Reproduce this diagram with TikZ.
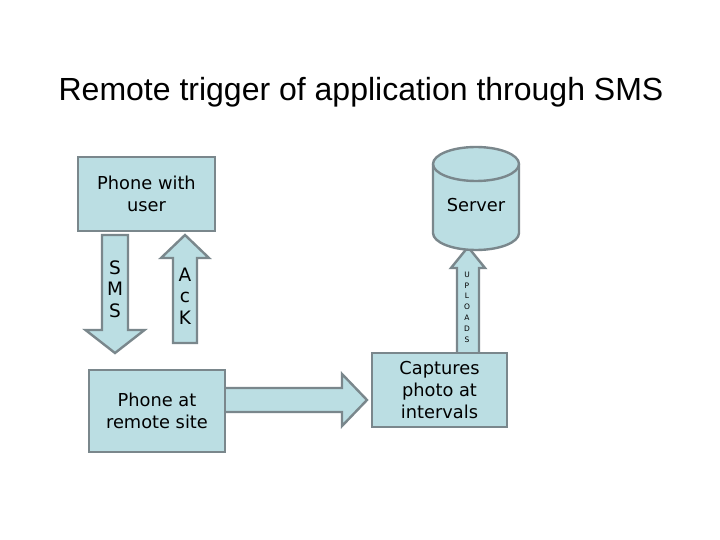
\documentclass[tikz,border=0pt]{standalone}
\usepackage{fontspec}
\setmainfont{DejaVu Sans}
\newfontfamily\titlefont{Liberation Sans}
\usetikzlibrary{calc}
\definecolor{boxfill}{RGB}{187,222,227}
\definecolor{boxline}{RGB}{122,135,140}
\tikzset{
  box/.style={draw=boxline, fill=boxfill, line width=2.4pt, inner sep=0pt, align=center,
    font=\fontsize{17.8}{22}\selectfont},
  blockarr/.style={draw=boxline, fill=boxfill, line width=2.4pt, line join=miter},
  arrtext/.style={inner sep=0pt, align=center, font=\fontsize{18.5}{21.5}\selectfont},
  tinytext/.style={inner sep=0pt, align=center, font=\fontsize{7.5}{10.8}\selectfont},
}
\newcommand\blockarrow[5]{%
  \coordinate (H) at ($(#2)!#5!(#1)$);
  \draw[blockarr] ($(#1)!#3!90:(#2)$) -- ($(H)!#3!90:(#2)$) -- ($(H)!#4!90:(#2)$) -- (#2)
    -- ($(H)!#4!-90:(#2)$) -- ($(H)!#3!-90:(#2)$) -- ($(#1)!#3!-90:(#2)$) -- cycle;
}
\begin{document}
\begin{tikzpicture}[x=1pt,y=-1pt]
\useasboundingbox (0,0) rectangle (720,540);
\fill[white] (0,0) rectangle (720,540);
% title
\node[anchor=base, inner sep=0pt, font=\titlefont\fontsize{32}{36}\selectfont] (title) at (361,101) {Remote trigger of application through SMS};
% arrow end points
\coordinate (smsS) at (115,235);
\coordinate (smsE) at (115,353);
\coordinate (ackS) at (185,343);
\coordinate (ackE) at (185,235);
\coordinate (upS) at (468,356);
\coordinate (upE) at (468,247);
\coordinate (rtS) at (222,400);
\coordinate (rtE) at (367,400);
\blockarrow{smsS}{smsE}{13pt}{29.5pt}{23pt}
\blockarrow{ackS}{ackE}{12pt}{24pt}{23pt}
\blockarrow{upS}{upE}{11pt}{17pt}{21pt}
\blockarrow{rtS}{rtE}{12pt}{26pt}{25pt}
% boxes
\node[box, minimum width=137pt, minimum height=74pt] (user) at (146.5,194) {Phone with\\user};
\node[box, minimum width=136pt, minimum height=82pt] (remote) at (157,411) {Phone at\\remote site};
\node[box, minimum width=135pt, minimum height=74pt] (capt) at (439.5,390) {Captures\\photo at\\intervals};
% server cylinder
\draw[blockarr] (433,164) -- (433,233) arc[start angle=180, end angle=360, x radius=43pt, y radius=17pt]
  -- (519,164) arc[start angle=0, end angle=180, x radius=43pt, y radius=17pt] -- cycle;
\draw[draw=boxline, line width=2.4pt] (433,164) arc[start angle=180, end angle=360, x radius=43pt, y radius=17pt];
\node[inner sep=0pt, font=\fontsize{17.8}{22}\selectfont] (server) at (476,205) {Server};
% arrow labels
\node[arrtext] (smslbl) at (115,289) {S\\M\\S};
\node[arrtext] (acklbl) at (185,296) {A\\c\\K};
\node[tinytext] (uplbl) at (467,307) {U\\P\\L\\O\\A\\D\\S};
\end{tikzpicture}
\end{document}
